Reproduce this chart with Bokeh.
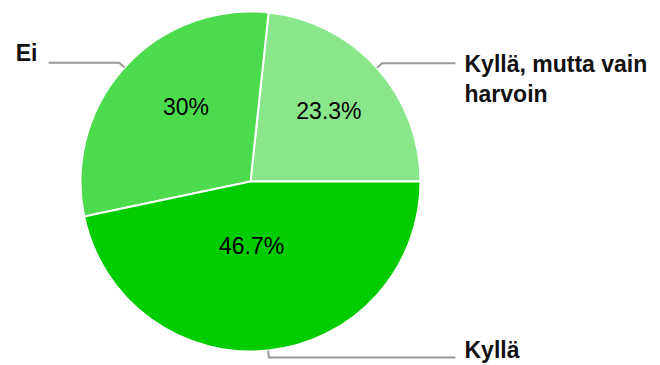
import math
from bokeh.plotting import figure
from bokeh.models import Range1d, ColumnDataSource
from bokeh.core.properties import value
from bokeh.embed import file_html
from bokeh.resources import INLINE

# ---- data ----
categories = ["Kyllä, mutta vain harvoin", "Ei", "Kyllä"]
label_lines = [["Kyllä, mutta vain", "harvoin"], ["Ei"], ["Kyllä"]]
shares = [23.3, 30.0, 46.7]
pct_labels = ["23.3%", "30%", "46.7%"]
colors = ["#8ae68a", "#4cdb4c", "#00cc00"]

# ---- layout / style ----
W, H = 660, 365
cx, cy, R = 250, 184, 170
label_frac = [0.62, 0.58, 0.38]
label_dang = [0.0, -7.0, -5.0]
label_dy = [1, -10, -8]
line_h = 30
FONT = "Liberation Sans"

p = figure(width=W, height=H, x_range=Range1d(0, W), y_range=Range1d(0, H),
           output_backend="svg", toolbar_location=None, min_border=0)
p.axis.visible = False
p.grid.visible = False
p.outline_line_color = None
p.background_fill_color = "white"
p.border_fill_color = "white"

total = sum(shares)
starts, ends, mids = [], [], []
a = 0.0
for s in shares:
    starts.append(a)
    a += 2 * math.pi * s / total
    ends.append(a)
    mids.append((starts[-1] + ends[-1]) / 2)

src = ColumnDataSource(dict(x=[cx] * 3, y=[cy] * 3, start=starts, end=ends, color=colors))
p.wedge(x="x", y="y", radius=R, start_angle="start", end_angle="end",
        fill_color="color", line_color="white", line_width=2, source=src)

# percent labels
px, py = [], []
for m, f, d in zip(mids, label_frac, label_dang):
    ang = m + math.radians(d)
    px.append(cx + R * f * math.cos(ang))
    py.append(cy + R * f * math.sin(ang))
p.text(x=px, y=py, text=pct_labels, text_align="center", text_baseline="middle",
       text_font=value(FONT), text_font_size="23px", text_color="#000000")

# leader lines and category labels
xs, ys = [], []
tx, ty, tt, talign = [], [], [], []
for m, lines, dy in zip(mids, label_lines, label_dy):
    ex, ey = cx + R * math.cos(m), cy + R * math.sin(m)
    bx, by = cx + (R + 7) * math.cos(m), cy + (R + 7) * math.sin(m)
    right = math.cos(m) >= 0
    endx = 455 if right else 48
    xs.append([ex, bx, endx])
    ys.append([ey, by, by])
    for i, ln in enumerate(lines):
        tx.append(endx + 9 if right else endx - 11)
        ty.append(by - dy - i * line_h)
        tt.append(ln)
        talign.append("left" if right else "right")
p.multi_line(xs=xs, ys=ys, line_color="#999999", line_width=2)
p.text(x=tx, y=ty, text=tt, text_align=talign, text_baseline="alphabetic",
       text_font=value(FONT), text_font_size="23px", text_font_style="bold",
       text_color="#111111")

open("out.html", "w").write(file_html(p, INLINE))
